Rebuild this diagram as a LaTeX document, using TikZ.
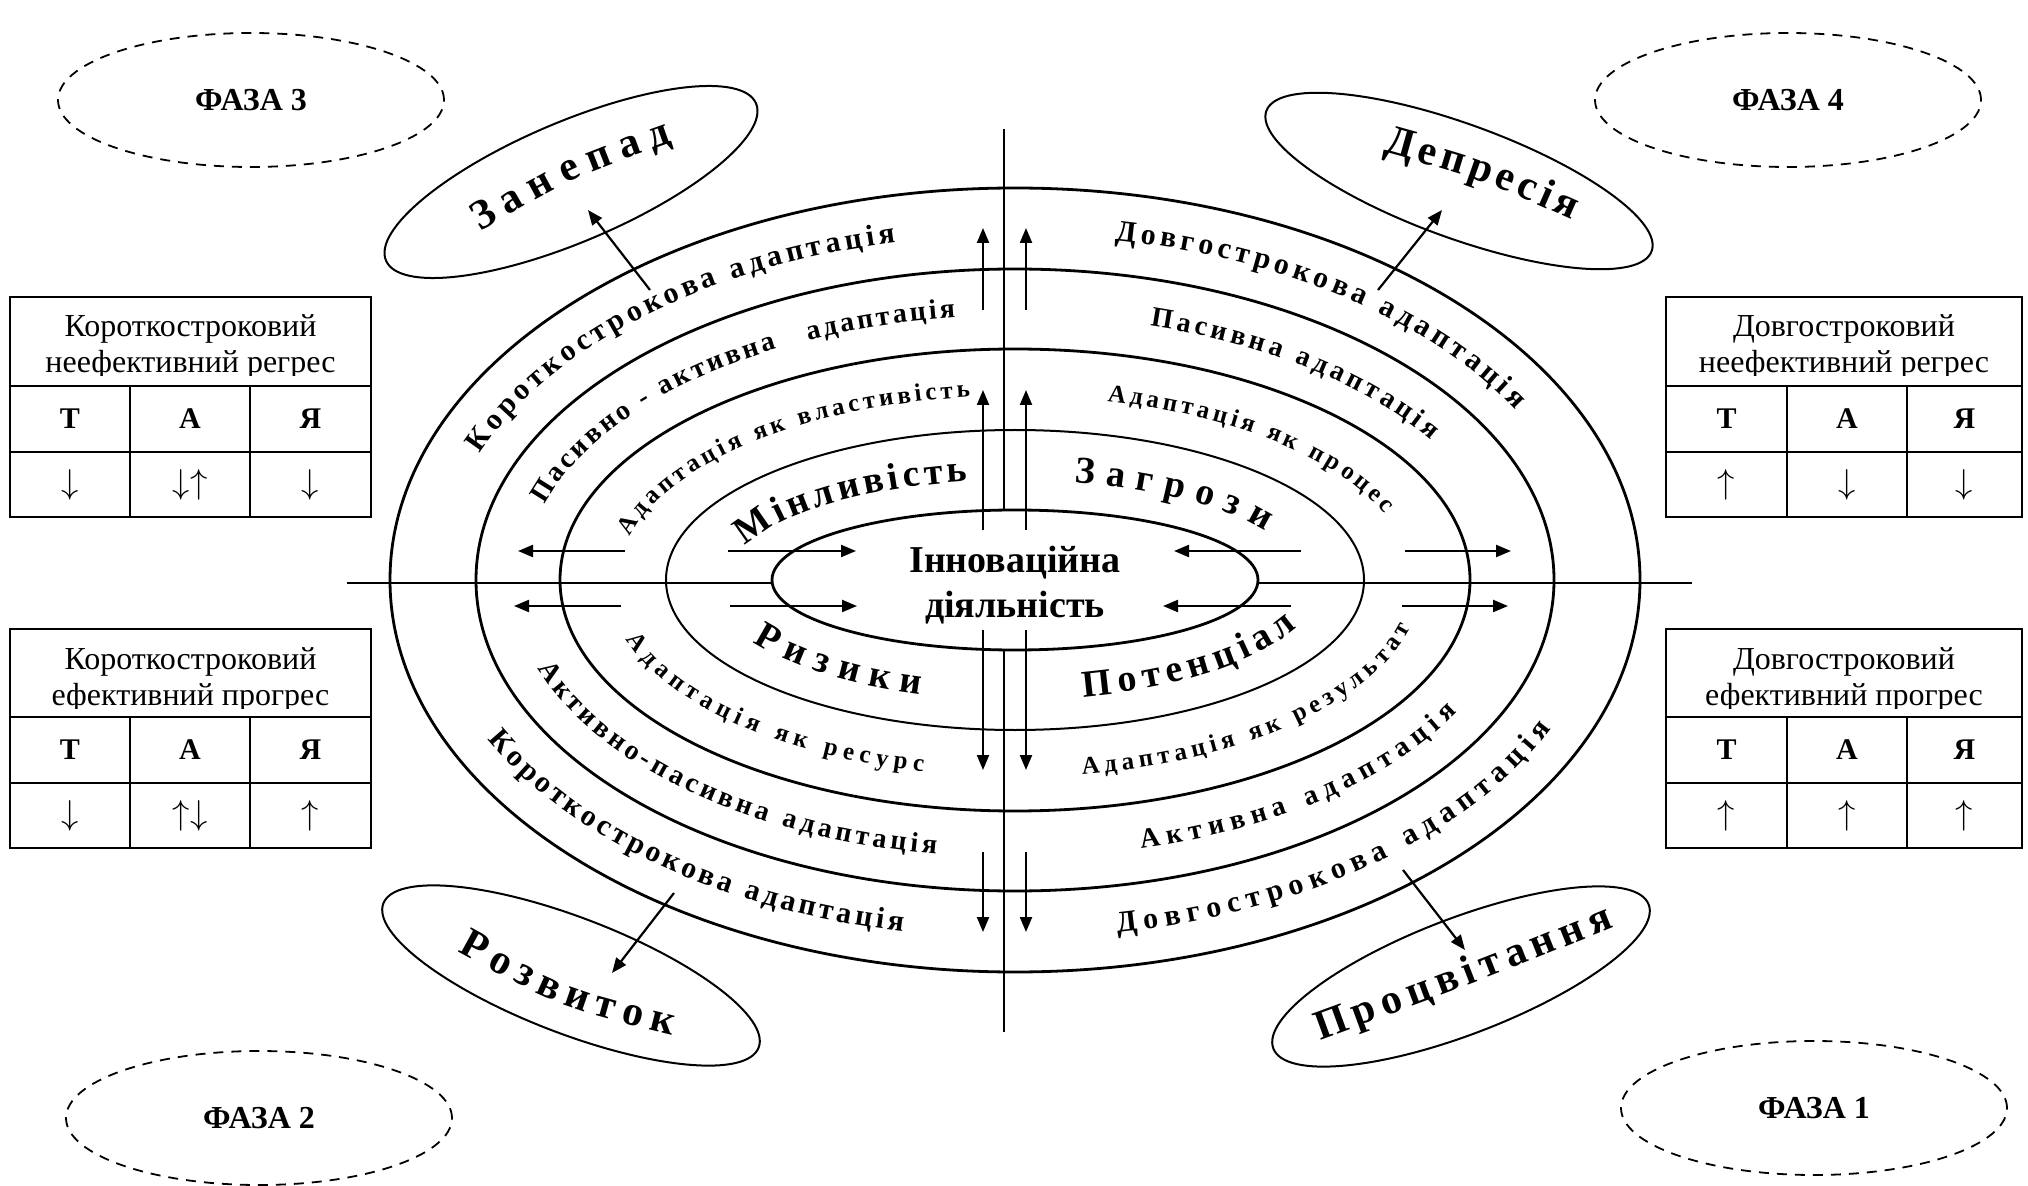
\documentclass[tikz,border=0pt]{standalone}
\usepackage{fontspec}
\setmainfont{Liberation Serif}
\usetikzlibrary{arrows.meta,decorations.text,calc,shapes.geometric}
\newcommand\fRa{\bfseries\fontsize{15}{18}\selectfont}
\newcommand\fRb{\bfseries\fontsize{14}{17}\selectfont}
\newcommand\fRc{\bfseries\fontsize{12.5}{15}\selectfont}
\newcommand\fRd{\bfseries\fontsize{19}{22}\selectfont}
\newcommand\fSt{\bfseries\fontsize{21}{25}\selectfont}
\newcommand\ringtext[6]{%
  \pgfmathsetmacro\rtx{1015+#1*cos(#3)}%
  \pgfmathsetmacro\rty{605+#2*sin(#3)}%
  \path[decorate,decoration={text along path,text align={fit to path},text={|#5|#6}}]
    (\rtx,\rty) arc[start angle=#3,end angle=#4,x radius=#1,y radius=#2];%
}
\tikzset{
  ring/.style={line width=1.4pt},
  thinring/.style={line width=1pt},
  stagebox/.style={draw, ellipse, line width=1pt, inner sep=0pt},
  phasebox/.style={draw, ellipse, line width=0.9pt, dash pattern=on 5pt off 4pt, inner sep=0pt,
    minimum width=193pt, minimum height=67pt, font=\bfseries\fontsize{16}{19}\selectfont},
  arr/.style={-{Triangle[length=7.5pt,width=6pt]}, line width=1.1pt},
  axisline/.style={line width=0.9pt},
  tbl/.style={line width=1.2pt},
  hdr/.style={anchor=base, inner sep=0pt, font=\fontsize{16}{19}\selectfont},
  cellb/.style={inner sep=0pt, font=\bfseries\fontsize{15}{18}\selectfont},
  cella/.style={inner sep=0pt, font=\fontsize{17.28}{20}\selectfont},
  ctext/.style={anchor=base, inner sep=0pt, font=\bfseries\fontsize{19}{22}\selectfont},
}
\begin{document}
\begin{tikzpicture}[x=0.5pt,y=0.5pt]
\useasboundingbox (0,0) rectangle (2028,1185);
\coordinate (C) at (1015,605);

% axes
\coordinate (vA) at (1004,1056); \coordinate (vB) at (1004,675);
\coordinate (vC) at (1004,535);  \coordinate (vD) at (1004,153);
\coordinate (hA) at (347,602);   \coordinate (hB) at (772,602);
\coordinate (hC) at (1258,602);  \coordinate (hD) at (1692,602);
\draw[axisline] (vA) -- (vB);
\draw[axisline] (vC) -- (vD);
\draw[axisline] (hA) -- (hB);
\draw[axisline] (hC) -- (hD);

% rings
\draw[ring] (C) ellipse [x radius=625, y radius=392];
\draw[ring] (C) ellipse [x radius=539, y radius=311];
\draw[ring] (C) ellipse [x radius=455, y radius=231];
\draw[thinring] (C) ellipse [x radius=349, y radius=150];
\draw[ring] (C) ellipse [x radius=243, y radius=70];

% centre text
\node[ctext] (in1) at (1015,612) {Інноваційна};
\node[ctext] (in2) at (1015,568) {діяльність};

% central arrows
\foreach \n/\xa/\ya/\xb/\yb in {
  ua/983/875/983/957, ub/1026/875/1026/957,
  uc/983/655/983/795, ud/1026/655/1026/795,
  da/983/555/983/415, db/1026/555/1026/415,
  dc/983/333/983/253, dd/1026/333/1026/253,
  la/625/634/518/634, lb/621/579/514/579,
  lc/728/634/856/634, ld/730/579/857/579,
  ra/1301/634/1174/634, rb/1291/579/1163/579,
  rc/1405/634/1511/634, rd/1402/579/1508/579}{
  \coordinate (\n s) at (\xa,\ya);
  \coordinate (\n t) at (\xb,\yb);
  \draw[arr] (\n s) -- (\n t);
}

% ring texts
\ringtext{575}{345}{158.5}{102}{\fRa}{Короткострокова адаптація}
\ringtext{575}{345}{80}{29.5}{\fRa}{Довгострокова адаптація}
\ringtext{589}{358}{206.5}{259}{\fRa}{Короткострокова адаптація}
\ringtext{589}{358}{280}{335.5}{\fRa}{Довгострокова адаптація}
\ringtext{490.5}{264.5}{163.5}{97}{\fRb}{Пасивно - активна {\ } адаптація}
\ringtext{490.5}{264.5}{74}{32}{\fRb}{Пасивна адаптація}
\ringtext{503.5}{277.5}{198.5}{261}{\fRb}{Активно-пасивна адаптація}
\ringtext{503.5}{277.5}{284.5}{331.5}{\fRb}{Активна адаптація}
\ringtext{396}{184}{166.5}{96.5}{\fRc}{Адаптація як властивість}
\ringtext{396}{184}{76.5}{21}{\fRc}{Адаптація як процес}
\ringtext{408}{197}{197.5}{257}{\fRc}{Адаптація як ресурс}
\ringtext{408}{197}{279.5}{346}{\fRc}{Адаптація як результат}
\ringtext{286}{100}{160.5}{99.5}{\fRd}{Мінливість}
\ringtext{286}{100}{78}{29}{\fRd}{Загрози}
\ringtext{306}{120}{211}{252}{\fRd}{Ризики}
\ringtext{306}{120}{283}{337}{\fRd}{Потенціал}

% stage ellipses
\node[stagebox, minimum width=201pt, minimum height=60pt, rotate=23] (zan) at (571,1003) {};
\node[stagebox, minimum width=205pt, minimum height=57pt, rotate=-20] (dep) at (1459,1004) {};
\node[stagebox, minimum width=201pt, minimum height=58pt, rotate=-21] (roz) at (571,209.5) {};
\node[stagebox, minimum width=201pt, minimum height=58pt, rotate=21] (pro) at (1461,208.5) {};

\path[decorate,decoration={text along path,text align={fit to path},text={|\fSt|Занепад}}]
  (480,953) .. controls (572,1007) .. (673,1043);
\path[decorate,decoration={text along path,text align={fit to path},text={|\fSt|Депресія}}]
  (1383,1033) .. controls (1480,1006) .. (1572,965);
\path[decorate,decoration={text along path,text align={fit to path},text={|\fSt|Розвиток}}]
  (457,234) .. controls (559,178) .. (672,150);
\path[decorate,decoration={text along path,text align={fit to path},text={|\fSt|Процвітання}}]
  (1320,145) .. controls (1468,199) .. (1614,258);

% stage arrows
\coordinate (zs) at (650,895);  \coordinate (zt) at (588,975);
\coordinate (ds) at (1378,895); \coordinate (dt) at (1442,975);
\coordinate (rs) at (674,292);  \coordinate (rt) at (612,212);
\coordinate (ps) at (1403,315); \coordinate (pt) at (1465,235);
\draw[arr] (zs) -- (zt);
\draw[arr] (ds) -- (dt);
\draw[arr] (rs) -- (rt);
\draw[arr] (ps) -- (pt);

% phases
\node[phasebox] (f3) at (251,1085) {ФАЗА 3};
\node[phasebox] (f4) at (1788,1085) {ФАЗА 4};
\node[phasebox] (f2) at (259,67) {ФАЗА 2};
\node[phasebox] (f1) at (1814,77) {ФАЗА 1};

% table 1 (left top)
\draw[tbl] (10,888) rectangle (371,668);
\draw[tbl] (10,799) -- (371,799);
\draw[tbl] (10,733) -- (371,733);
\draw[tbl] (130,799) -- (130,668);
\draw[tbl] (250,799) -- (250,668);
\begin{scope}
\clip (10,888) rectangle (371,809);
\node[hdr] (t1h1) at (190.5,848) {Короткостроковий};
\node[hdr] (t1h2) at (190.5,812) {неефективний регрес};
\end{scope}
\node[cellb] (t1a) at (70,766) {Т};
\node[cellb] (t1b) at (190,766) {А};
\node[cellb] (t1c) at (310.5,766) {Я};
\node[cella] (t1d) at (70,700.5) {$\downarrow$};
\node[cella] (t1e) at (190,700.5) {$\downarrow\uparrow$};
\node[cella] (t1f) at (310.5,700.5) {$\downarrow$};

% table 2 (left bottom)
\draw[tbl] (10,556) rectangle (371,337);
\draw[tbl] (10,468) -- (371,468);
\draw[tbl] (10,402) -- (371,402);
\draw[tbl] (130,468) -- (130,337);
\draw[tbl] (250,468) -- (250,337);
\begin{scope}
\clip (10,556) rectangle (371,477);
\node[hdr] (t2h1) at (190.5,516) {Короткостроковий};
\node[hdr] (t2h2) at (190.5,480) {ефективний прогрес};
\end{scope}
\node[cellb] (t2a) at (70,435) {Т};
\node[cellb] (t2b) at (190,435) {А};
\node[cellb] (t2c) at (310.5,435) {Я};
\node[cella] (t2d) at (70,369.5) {$\downarrow$};
\node[cella] (t2e) at (190,369.5) {$\uparrow\downarrow$};
\node[cella] (t2f) at (310.5,369.5) {$\uparrow$};

% table 3 (right top)
\draw[tbl] (1666,888) rectangle (2022,668);
\draw[tbl] (1666,799) -- (2022,799);
\draw[tbl] (1666,733) -- (2022,733);
\draw[tbl] (1787,799) -- (1787,668);
\draw[tbl] (1907,799) -- (1907,668);
\begin{scope}
\clip (1666,888) rectangle (2022,809);
\node[hdr] (t3h1) at (1844,848) {Довгостроковий};
\node[hdr] (t3h2) at (1844,812) {неефективний регрес};
\end{scope}
\node[cellb] (t3a) at (1726.5,766) {Т};
\node[cellb] (t3b) at (1847,766) {А};
\node[cellb] (t3c) at (1964.5,766) {Я};
\node[cella] (t3d) at (1726.5,700.5) {$\uparrow$};
\node[cella] (t3e) at (1847,700.5) {$\downarrow$};
\node[cella] (t3f) at (1964.5,700.5) {$\downarrow$};

% table 4 (right bottom)
\draw[tbl] (1666,556) rectangle (2022,337);
\draw[tbl] (1666,468) -- (2022,468);
\draw[tbl] (1666,402) -- (2022,402);
\draw[tbl] (1787,468) -- (1787,337);
\draw[tbl] (1907,468) -- (1907,337);
\begin{scope}
\clip (1666,556) rectangle (2022,477);
\node[hdr] (t4h1) at (1844,516) {Довгостроковий};
\node[hdr] (t4h2) at (1844,480) {ефективний прогрес};
\end{scope}
\node[cellb] (t4a) at (1726.5,435) {Т};
\node[cellb] (t4b) at (1847,435) {А};
\node[cellb] (t4c) at (1964.5,435) {Я};
\node[cella] (t4d) at (1726.5,369.5) {$\uparrow$};
\node[cella] (t4e) at (1847,369.5) {$\uparrow$};
\node[cella] (t4f) at (1964.5,369.5) {$\uparrow$};
\end{tikzpicture}
\end{document}
